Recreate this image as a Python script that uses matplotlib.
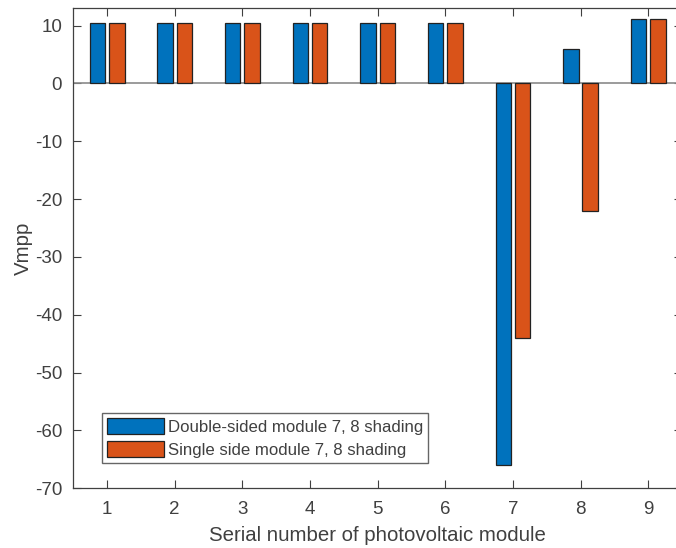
import numpy as np
import matplotlib
matplotlib.use('Agg')
import matplotlib.pyplot as plt

plt.rcParams['font.family'] = ['Liberation Sans', 'DejaVu Sans']
plt.rcParams['axes.unicode_minus'] = False

# module serial numbers and the maximum-power-point voltage of each
modules = [1, 2, 3, 4, 5, 6, 7, 8, 9]
vmpp_double = [10.5, 10.5, 10.5, 10.5, 10.5, 10.5, -66.0, 6.0, 11.2]
vmpp_single = [10.5, 10.5, 10.5, 10.5, 10.5, 10.5, -44.0, -22.0, 11.2]
series_names = ['Double-sided module 7, 8 shading',
                'Single side module 7, 8 shading']

blue = '#0072BD'
orange = '#D95319'
ink = '#404040'


def main():
    fig = plt.figure(figsize=(6.76, 5.48), dpi=100)
    ax = fig.add_axes([0.1084, 0.109, 0.9005, 0.876])

    x = np.array(modules, dtype=float)
    width = 0.229
    offset = 0.143
    ax.bar(x - offset, vmpp_double, width, color=blue, edgecolor='#222222',
           linewidth=0.9, label=series_names[0], zorder=3)
    ax.bar(x + offset, vmpp_single, width, color=orange, edgecolor='#222222',
           linewidth=0.9, label=series_names[1], zorder=3)
    ax.axhline(0, color='#8a8a8a', linewidth=1.2, zorder=2)

    ax.set_xlim(0.5, 9.5)
    ax.set_ylim(-70, 13)
    ax.set_xticks(modules)
    ax.set_yticks(np.arange(-70, 11, 10))

    ax.tick_params(direction='in', length=6, width=0.8, colors=ink,
                   labelsize=13.5, top=True, right=True, pad=9)
    ax.tick_params(axis='y', pad=8)
    for sp in ax.spines.values():
        sp.set_color(ink)
        sp.set_linewidth(0.9)

    ax.set_xlabel('Serial number of photovoltaic module', fontsize=14.7,
                  color=ink, labelpad=6)
    ax.set_ylabel('Vmpp', fontsize=14.7, color=ink, labelpad=1)

    leg = ax.legend(loc='lower left', bbox_to_anchor=(0.0476, 0.053),
                    borderaxespad=0, fontsize=12.1, handlelength=3.35,
                    handleheight=1.1, handletextpad=0.25, labelspacing=0.35,
                    borderpad=0.3, fancybox=False, framealpha=1)
    leg.get_frame().set_edgecolor('#666666')
    leg.get_frame().set_linewidth(1.0)
    for t in leg.get_texts():
        t.set_color(ink)

    fig.savefig('out.png', dpi=100)


if __name__ == '__main__':
    main()
